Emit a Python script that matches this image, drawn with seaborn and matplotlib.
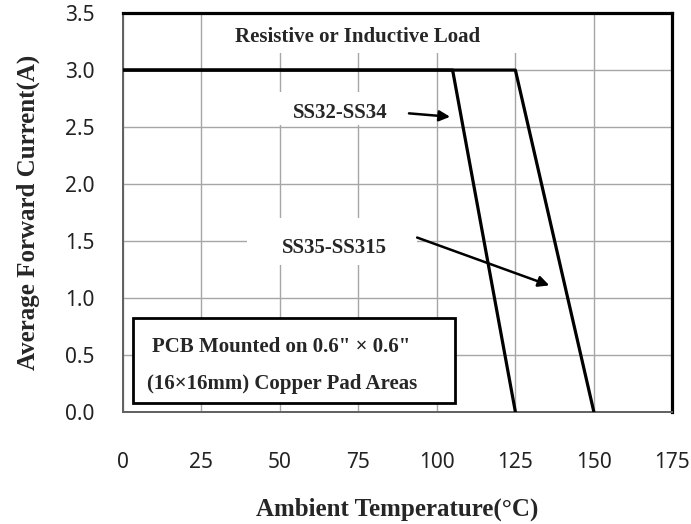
import matplotlib
matplotlib.use("Agg")
import matplotlib.pyplot as plt
import pandas as pd
import seaborn as sns

# derating curves
temp_ss32 = [0, 105, 125]
curr_ss32 = [3.0, 3.0, 0.0]
temp_ss35 = [0, 125, 150]
curr_ss35 = [3.0, 3.0, 0.0]
x_ticks = [0, 25, 50, 75, 100, 125, 150, 175]
y_ticks = [0.0, 0.5, 1.0, 1.5, 2.0, 2.5, 3.0, 3.5]

df = pd.concat([
    pd.DataFrame({"temp": temp_ss32, "current": curr_ss32, "part": "SS32-SS34"}),
    pd.DataFrame({"temp": temp_ss35, "current": curr_ss35, "part": "SS35-SS315"}),
])

sns.set_style("white")
serif = ["Liberation Serif", "DejaVu Serif"]
sans = ["Noto Sans", "DejaVu Sans"]

fig = plt.figure(figsize=(6.91, 5.24), dpi=100)
ax = fig.add_axes([0.178, 0.214, 0.795, 0.761])

ax.set_axisbelow(True)
ax.grid(True, color="#a6a6a6", linewidth=1.0)

sns.lineplot(data=df, x="temp", y="current", hue="part", palette=["black", "black"],
             linewidth=2.3, legend=False, ax=ax, zorder=3)

ax.set_xlim(0, 175)
ax.set_ylim(0, 3.5)
ax.set_xticks(x_ticks)
ax.set_yticks(y_ticks)
ax.set_yticklabels([f"{v:.1f}" for v in y_ticks])
ax.tick_params(axis="both", direction="out", length=5.8, width=1.2, color="#808080",
               labelsize=15, labelcolor="#222222")
ax.tick_params(axis="x", pad=23)
ax.tick_params(axis="y", pad=14.5)
for lab in ax.get_xticklabels() + ax.get_yticklabels():
    lab.set_fontfamily(sans)

for s in ["top", "right"]:
    ax.spines[s].set_color("black")
    ax.spines[s].set_linewidth(2.3)
for s in ["left", "bottom"]:
    ax.spines[s].set_color("#606060")
    ax.spines[s].set_linewidth(1.4)

ax.set_xlabel("Ambient Temperature(\u00b0C)", fontfamily=serif, fontweight="bold",
              fontsize=18, labelpad=18)
ax.set_ylabel("Average Forward Current(A)", fontfamily=serif, fontweight="bold",
              fontsize=18, labelpad=18)

# white label backgrounds that cut the grid, like the original text boxes
for (x0, y0, w, h) in [(29, 3.15, 99, 0.35), (48.5, 2.52, 42.4, 0.29),
                       (39.5, 1.29, 54.2, 0.41)]:
    ax.add_patch(plt.Rectangle((x0, y0), w, h, facecolor="white", edgecolor="none",
                               zorder=1))

lbl = dict(ha="center", va="center", fontfamily=serif, fontweight="bold",
           fontsize=15, zorder=5)
ax.text(74.6, 3.29, "Resistive or Inductive Load", **lbl)
ax.text(69.2, 2.62, "SS32-SS34", **lbl)
ax.text(67.5, 1.44, "SS35-SS315", **lbl)

arrow = dict(arrowstyle="-|>", color="black", lw=1.8, mutation_scale=16,
             shrinkA=0, shrinkB=0)
ax.annotate("", xy=(104.2, 2.59), xytext=(91.1, 2.62), arrowprops=arrow, zorder=4)
ax.annotate("", xy=(135.8, 1.11), xytext=(93.7, 1.53), arrowprops=arrow, zorder=4)

rect = plt.Rectangle((3.2, 0.079), 102.6, 0.746, facecolor="white", edgecolor="black",
                     linewidth=2.0, zorder=4)
ax.add_patch(rect)
ax.text(9.2, 0.57, "PCB Mounted on 0.6\" \u00d7 0.6\"", ha="left", va="center",
        fontfamily=serif, fontweight="bold", fontsize=15, zorder=5)
ax.text(7.6, 0.245, "(16\u00d716mm) Copper Pad Areas", ha="left", va="center",
        fontfamily=serif, fontweight="bold", fontsize=15, zorder=5)

fig.savefig("out.png", dpi=100)
